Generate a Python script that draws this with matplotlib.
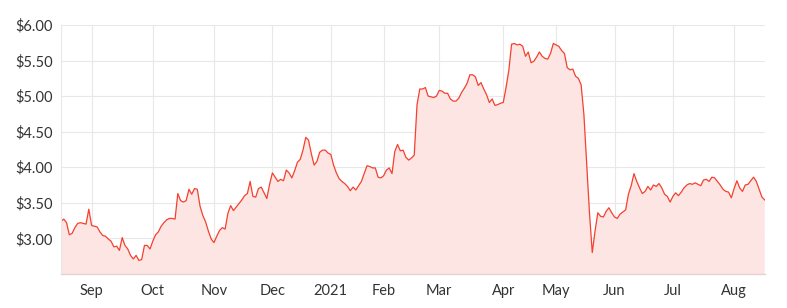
import numpy as np
import pandas as pd
import matplotlib
matplotlib.use("Agg")
import matplotlib.pyplot as plt

# ASX trading calendar (Aug 17 2020 – Aug 17 2021)
holidays = ["2020-12-25", "2020-12-28", "2021-01-01", "2021-01-26",
            "2021-04-02", "2021-04-05", "2021-04-26", "2021-06-14"]
dates = pd.bdate_range("2020-08-17", "2021-08-17", freq="C", holidays=holidays)

prices_2020_aug_nov = [
    3.24, 3.27, 3.22, 3.05, 3.07, 3.15, 3.21, 3.22, 3.21, 3.20,
    3.41, 3.18, 3.17, 3.16, 3.09, 3.04, 3.03, 2.99, 2.96, 2.88,
    2.89, 2.83, 3.01, 2.90, 2.85, 2.76, 2.71, 2.76, 2.69, 2.70,
    2.90, 2.90, 2.85, 2.96, 3.05, 3.09, 3.17, 3.22, 3.26, 3.28,
    3.28, 3.27, 3.63, 3.53, 3.51, 3.53, 3.69, 3.62, 3.70, 3.69,
    3.45, 3.32, 3.23, 3.10, 2.99, 2.94, 3.03, 3.11, 3.15, 3.13,
    3.35, 3.46, 3.39, 3.44, 3.49, 3.54, 3.60, 3.63, 3.80, 3.59,
    3.58, 3.70,
]
prices_nov_apr = [
    3.72, 3.64, 3.56, 3.76, 3.92, 3.86, 3.80, 3.83, 3.81, 3.96,
    3.92, 3.85, 3.95, 4.07, 4.11, 4.24, 4.42, 4.38, 4.19, 4.03,
    4.08, 4.21, 4.24, 4.24, 4.20, 4.18, 4.03, 3.92, 3.84, 3.80,
    3.77, 3.73, 3.67, 3.72, 3.68, 3.74, 3.80, 3.91, 4.02, 4.01,
    3.99, 3.99, 3.86, 3.85, 3.88, 3.96, 3.99, 3.91, 4.22, 4.32,
    4.23, 4.24, 4.14, 4.10, 4.13, 4.17, 4.88, 5.10, 5.10, 5.12,
    5.00, 4.99, 4.98, 5.00, 5.08, 5.07, 5.04, 5.04, 4.96, 4.93,
    4.93, 4.97, 5.05, 5.11, 5.18, 5.30, 5.30, 5.27, 5.15, 5.19,
    5.10, 5.02, 4.91, 4.96, 4.87, 4.88, 4.90, 4.91, 5.12, 5.36,
    5.73, 5.74, 5.72,
]
prices_apr_aug = [
    5.73, 5.70, 5.56, 5.62, 5.47, 5.49, 5.55, 5.62, 5.56, 5.53,
    5.52, 5.60, 5.74, 5.72, 5.70, 5.64, 5.60, 5.40, 5.37, 5.38,
    5.28, 5.25, 5.16, 4.74, 4.05, 3.36, 2.80, 3.10, 3.36, 3.31,
    3.30, 3.38, 3.43, 3.36, 3.30, 3.28, 3.34, 3.37, 3.40, 3.62,
    3.74, 3.91, 3.80, 3.71, 3.63, 3.66, 3.73, 3.68, 3.75, 3.73,
    3.77, 3.71, 3.62, 3.59, 3.51, 3.59, 3.64, 3.60, 3.65, 3.71,
    3.75, 3.77, 3.76, 3.78, 3.76, 3.74, 3.82, 3.83, 3.80, 3.86,
    3.85, 3.80, 3.75, 3.69, 3.66, 3.65, 3.57, 3.70, 3.81, 3.71,
    3.66, 3.75, 3.76, 3.81, 3.86, 3.80, 3.69, 3.58, 3.54,
]
prices = prices_2020_aug_nov + prices_nov_apr + prices_apr_aug

y_ticks = [3.0, 3.5, 4.0, 4.5, 5.0, 5.5, 6.0]
month_labels = ["Sep", "Oct", "Nov", "Dec", "2021", "Feb", "Mar", "Apr",
                "May", "Jun", "Jul", "Aug"]

n = min(len(dates), len(prices))
dates = dates[:n]
prices = np.array(prices[:n])
x = np.arange(n)

# first trading day of each month
months = pd.Series(dates.to_period("M"))
first_idx = [i for i in range(1, n) if months[i] != months[i - 1]]

plt.rcParams['font.family'] = ['Lato', 'DejaVu Sans']

fig = plt.figure(figsize=(7.87, 3.08), dpi=100)
ax = fig.add_axes([61 / 787, 1 - 274.3 / 308, (764.7 - 61) / 787, (274.3 - 25) / 308])

line_color = "#f4412f"
ax.fill_between(x, prices, 0, color="#fce5e3", linewidth=0)
ax.plot(x, prices, color=line_color, linewidth=0.9)

ax.set_xlim(0, n - 1)
ax.set_ylim(2.494, 6.0)
ax.set_yticks(y_ticks)
ax.set_yticklabels([f"${v:.2f}" for v in y_ticks])
ax.set_xticks(first_idx[:len(month_labels)])
ax.set_xticklabels(month_labels[:len(first_idx)])

ax.grid(True, color="#e8e8e8", linewidth=0.8)
ax.set_axisbelow(True)
for s in ["top", "right"]:
    ax.spines[s].set_visible(False)
ax.spines["left"].set_color("#e8e8e8")
ax.spines["left"].set_linewidth(0.8)
ax.spines["bottom"].set_color("#e3d3d3")
ax.spines["bottom"].set_linewidth(1.0)
ax.tick_params(axis="both", length=0, labelsize=10.5, colors="#333333")
ax.tick_params(axis="y", pad=6)
ax.tick_params(axis="x", pad=7)

fig.savefig("out.png", dpi=100)
